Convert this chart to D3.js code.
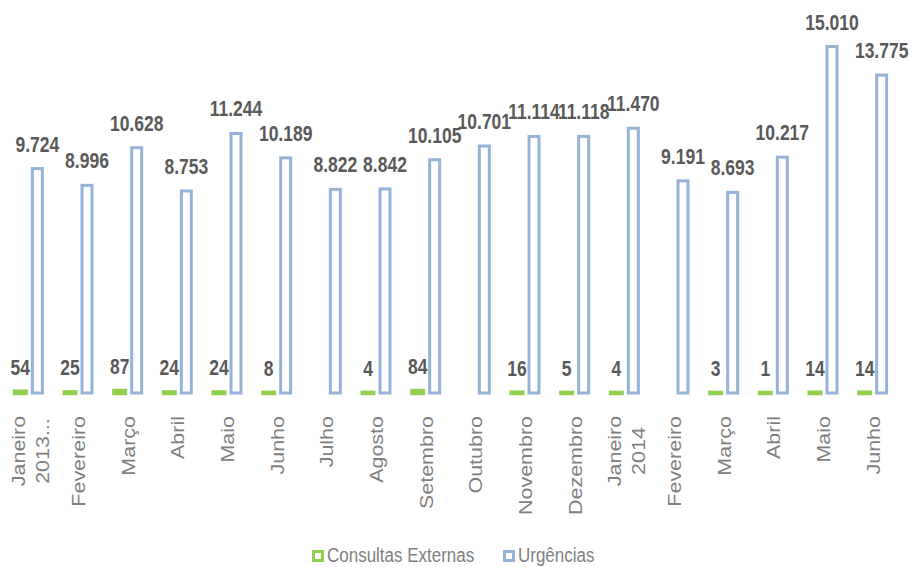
<!DOCTYPE html>
<html>
<head>
<meta charset="utf-8">
<script src="https://cdn.jsdelivr.net/npm/d3@7"></script>
<style>
  html, body { margin: 0; padding: 0; background: #ffffff; }
  svg { display: block; }
</style>
</head>
<body>
<svg id="chart" width="913" height="567"></svg>
<script>
// Month categories (a "\n" splits a label onto two lines)
const categories = [
  "Janeiro\n2013...", "Fevereiro", "Março", "Abril", "Maio", "Junho",
  "Julho", "Agosto", "Setembro", "Outubro", "Novembro", "Dezembro",
  "Janeiro\n2014", "Fevereiro", "Março", "Abril", "Maio", "Junho"
];

// Series values (null = no value recorded that month)
const consultasExternas = [54, 25, 87, 24, 24, 8, null, 4, 84, null, 16, 5, 4, null, 3, 1, 14, 14];
const urgencias = [9724, 8996, 10628, 8753, 11244, 10189, 8822, 8842, 10105, 10701, 11114, 11118, 11470, 9191, 8693, 10217, 15010, 13775];

const seriesNames = ["Consultas Externas", "Urgências"];
const seriesColors = ["#92d050", "#95b3d7"];

const svg = d3.select("#chart");

// Portuguese number formatting: "." as the thousands separator
const ptLocale = d3.formatLocale({ decimal: ",", thousands: ".", grouping: [3], currency: ["€", ""] });
const fmt = ptLocale.format(",d");

const x = d3.scaleBand().domain(d3.range(categories.length)).range([4, 898]).padding(0);
const xs = d3.scaleBand().domain([0, 1]).range([-17, 17]).padding(0);
const y = d3.scaleLinear().domain([0, 16000]).range([393, 23.7]);

const rows = categories.map((c, i) => ({ i, values: [consultasExternas[i], urgencias[i]] }));

const barStyle = [
  { w: 10.5, stroke: 4.5 },
  { w: 10, stroke: 3 }
];

// Bars: outlined columns, one group per month
const groups = svg.append("g").selectAll("g.month")
  .data(rows).join("g")
  .attr("class", "month")
  .attr("transform", d => `translate(${x(d.i) + x.bandwidth() / 2},0)`);

groups.selectAll("rect")
  .data(d => d.values.map((v, s) => ({ v, s })).filter(e => e.v !== null))
  .join("rect")
  .attr("x", e => xs(e.s) + xs.bandwidth() / 2 - barStyle[e.s].w / 2)
  .attr("width", e => barStyle[e.s].w)
  .attr("y", e => y(e.v))
  .attr("height", e => y(0) - y(e.v))
  .attr("fill", "#ffffff")
  .attr("stroke", e => seriesColors[e.s])
  .attr("stroke-width", e => barStyle[e.s].stroke);

// Value labels above each bar
groups.selectAll("text.value")
  .data(d => d.values.map((v, s) => ({ v, s })).filter(e => e.v !== null))
  .join("text")
  .attr("class", "value")
  .attr("transform", e => `translate(${xs(e.s) + xs.bandwidth() / 2},${y(e.v) - 17}) scale(1,1.26)`)
  .attr("text-anchor", "middle")
  .attr("font-family", "'Liberation Sans', Arial, sans-serif")
  .attr("font-weight", "bold")
  .attr("font-size", "17.5px")
  .attr("fill", "#595959")
  .text(e => fmt(e.v));

// Category axis with vertical labels
const xAxis = d3.axisBottom(x).tickSize(0).tickFormat("");
const axisG = svg.append("g")
  .attr("transform", `translate(0,${y(0) + 1})`)
  .call(xAxis);
axisG.select(".domain").remove();

axisG.selectAll(".tick").each(function(i) {
  const lines = categories[i].split("\n");
  const t = d3.select(this).append("text")
    .attr("fill", "#7f7f7f")
    .attr("font-family", "'Liberation Sans', Arial, sans-serif")
    .attr("font-size", "19px")
    .attr("transform", "translate(0,22) rotate(-90) scale(1.13,1)");
  if (lines.length === 1) {
    t.attr("text-anchor", "end")
      .attr("dy", "0.35em")
      .text(lines[0]);
  } else {
    t.attr("text-anchor", "middle");
    lines.forEach((ln, k) => {
      t.append("tspan")
        .attr("x", -31)
        .attr("y", (k - 0.5) * 24.5 + 1.5)
        .attr("dy", "0.35em")
        .text(ln);
    });
  }
});

// Legend
const legendItems = [
  { name: seriesNames[0], color: seriesColors[0], x: 312 },
  { name: seriesNames[1], color: seriesColors[1], x: 503 }
];
const lg = svg.append("g").selectAll("g").data(legendItems).join("g")
  .attr("transform", d => `translate(${d.x},550)`);
lg.append("rect")
  .attr("x", 1.5).attr("y", 1.5)
  .attr("width", 9).attr("height", 9)
  .attr("fill", "#ffffff")
  .attr("stroke", d => d.color)
  .attr("stroke-width", 3);
lg.append("text")
  .attr("transform", "translate(15,11.5) scale(1,1.15)")
  .attr("font-family", "'Liberation Sans', Arial, sans-serif")
  .attr("font-size", "17px")
  .attr("fill", "#7f7f7f")
  .text(d => d.name);
</script>
</body>
</html>
